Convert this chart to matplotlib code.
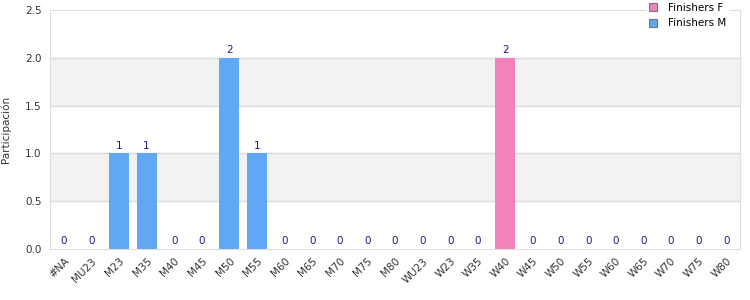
import numpy as np
import matplotlib.pyplot as plt

categories = ['#NA', 'MU23', 'M23', 'M35', 'M40', 'M45', 'M50', 'M55', 'M60', 'M65',
              'M70', 'M75', 'M80', 'WU23', 'W23', 'W35', 'W40', 'W45', 'W50', 'W55',
              'W60', 'W65', 'W70', 'W75', 'W80']
finishers_m = [0, 0, 1, 1, 0, 0, 2, 1, 0, 0, 0, 0, 0, 0, 0, 0, 0, 0, 0, 0, 0, 0, 0, 0, 0]
finishers_f = [0, 0, 0, 0, 0, 0, 0, 0, 0, 0, 0, 0, 0, 0, 0, 0, 2, 0, 0, 0, 0, 0, 0, 0, 0]

plt.rcParams['font.family'] = ['DejaVu Sans']

fig = plt.figure(figsize=(7.5, 3), dpi=100)
ax = fig.add_axes([0.0667, 0.17, 0.92, 0.7967])

x = np.arange(len(categories))
m = np.array(finishers_m)
f = np.array(finishers_f)

ax.axhspan(0.5, 1.0, color='#f2f2f2', zorder=0)
ax.axhspan(1.5, 2.0, color='#f2f2f2', zorder=0)
for y in [0.5, 1.0, 1.5, 2.0]:
    ax.axhline(y, color='#dddddd', lw=1, zorder=1)

ax.bar(x, m, width=0.72, color='#60a8f4', label='Finishers M', zorder=2)
ax.bar(x, f, width=0.72, bottom=m, color='#f283b9', label='Finishers F', zorder=2)

total = m + f
for xi, t in zip(x, total):
    ax.text(xi, t + 0.03, str(t), ha='center', va='bottom', fontsize=7.5, color='#1a1a8c')

ax.set_xlim(-0.5, len(categories) - 0.5)
ax.set_ylim(0, 2.5)
ax.set_yticks([0, 0.5, 1.0, 1.5, 2.0, 2.5])
ax.set_yticklabels(['0.0', '0.5', '1.0', '1.5', '2.0', '2.5'])
ax.set_xticks(x)
ax.set_xticklabels(categories, rotation=45, ha='right', rotation_mode='anchor')
ax.tick_params(axis='both', length=0, labelsize=7.5, colors='#333333')
ax.tick_params(axis='y', pad=6)
ax.tick_params(axis='x', pad=5)
ax.set_ylabel('Participación', fontsize=7.5, color='#333333', labelpad=10)
for s in ax.spines.values():
    s.set_color('#dddddd')

h, l = ax.get_legend_handles_labels()
leg = ax.legend(h[::-1], l[::-1], loc='upper right', bbox_to_anchor=(0.99, 1.06),
                fontsize=7.5, frameon=True, fancybox=False, handlelength=0.8, handleheight=0.8,
                labelspacing=0.5, borderpad=0.2, handletextpad=1.0)
leg.get_frame().set_edgecolor('white')
leg.get_frame().set_alpha(1)
for p in leg.get_patches():
    p.set_edgecolor('#777777')
    p.set_linewidth(0.8)

fig.savefig('out.png', dpi=100)
